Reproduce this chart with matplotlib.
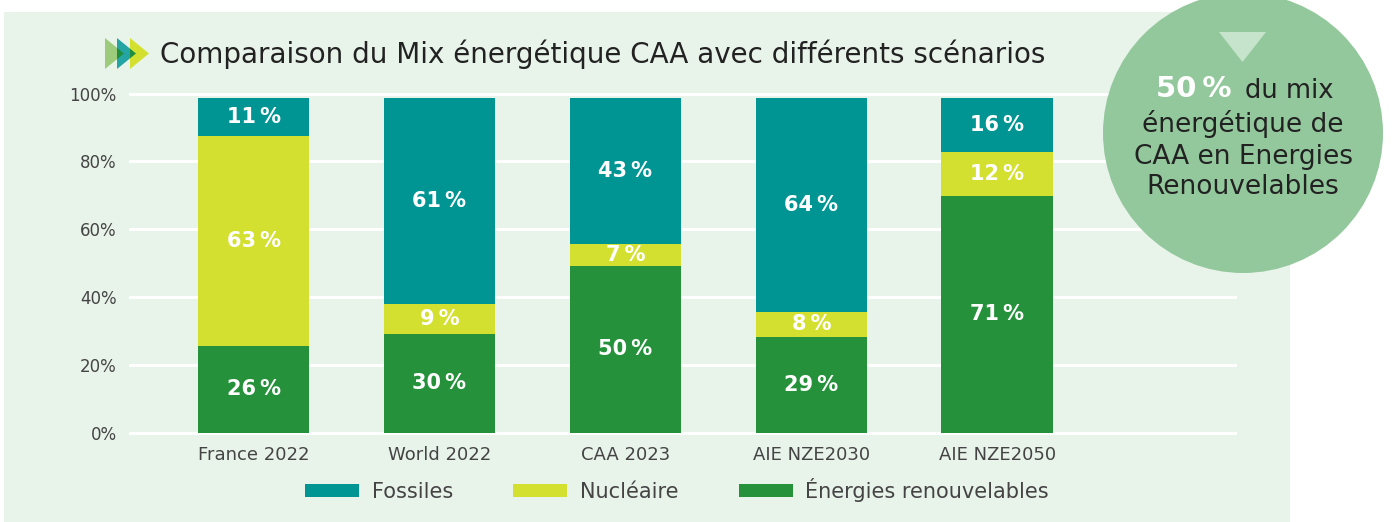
import matplotlib
matplotlib.use("Agg")
import matplotlib.pyplot as plt
from matplotlib.patches import Rectangle, Circle, Polygon
import numpy as np

# Données (hauteurs, étiquettes affichées)
categories = ["France 2022", "World 2022", "CAA 2023", "AIE NZE2030", "AIE NZE2050"]
renouvelables = [25.4, 29.2, 49.1, 28.3, 69.9]
nucleaire = [62.0, 8.8, 6.6, 7.3, 12.7]
fossiles = [11.2, 60.6, 42.9, 63.0, 16.0]
lab_renouvelables = ["26\u2009%", "30\u2009%", "50\u2009%", "29\u2009%", "71\u2009%"]
lab_nucleaire = ["63\u2009%", "9\u2009%", "7\u2009%", "8\u2009%", "12\u2009%"]
lab_fossiles = ["11\u2009%", "61\u2009%", "43\u2009%", "64\u2009%", "16\u2009%"]
yticks = [0, 20, 40, 60, 80, 100]

C_FOS = "#009593"
C_NUC = "#D3E02F"
C_REN = "#25923B"
C_BG = "#E8F3EA"
C_CIRCLE = "#93C89C"

plt.rcParams["font.family"] = ["DejaVu Sans"]

W, H = 1392, 522
fig = plt.figure(figsize=(W / 100, H / 100), dpi=100)
fig.patch.set_facecolor("white")

# fond (coordonnées pixels)
bg = fig.add_axes([0, 0, 1, 1], zorder=0)
bg.set_xlim(0, W)
bg.set_ylim(H, 0)
bg.axis("off")
bg.add_patch(Rectangle((4, 12), 1286, 520, color=C_BG, lw=0))

# icône titre
def tri(x0, color):
    return Polygon([(x0, 38), (x0, 69), (x0 + 19, 53.5)], closed=True, color=color, lw=0)

bg.add_patch(tri(105, "#9DCB7C"))
bg.add_patch(tri(117, "#24A5A4"))
bg.add_patch(tri(130, "#D3E02F"))
bg.add_patch(Polygon([(117, 47.8), (117, 59.2), (124, 53.5)], color="#1F8F3F", lw=0))
bg.add_patch(Polygon([(130, 48.6), (130, 58.4), (136, 53.5)], color="#1F8F3F", lw=0))
bg.text(160, 54, "Comparaison du Mix énergétique CAA avec différents scénarios",
        fontsize=20, color="#222222", va="center", ha="left")

# graphique
px = 3.39
y0, y100 = 432.5, 93.5
ax = fig.add_axes([129 / W, (H - y0 - px) / H, 1108 / W, (y0 - y100 + 2 * px) / H], zorder=1)
ax.set_facecolor("none")
ax.set_ylim(-1, 101)
ax.set_xlim(-0.67, 5.29)

x = np.arange(len(categories))
bw = 0.6
ren = np.array(renouvelables)
nuc = np.array(nucleaire)
fos = np.array(fossiles)
ax.bar(x, ren, bw, color=C_REN, label="Énergies renouvelables", zorder=2)
ax.bar(x, nuc, bw, bottom=ren, color=C_NUC, label="Nucléaire", zorder=2)
ax.bar(x, fos, bw, bottom=ren + nuc, color=C_FOS, label="Fossiles", zorder=2)

for i in range(len(categories)):
    for bottom, h, lab in [(0, ren[i], lab_renouvelables[i]),
                           (ren[i], nuc[i], lab_nucleaire[i]),
                           (ren[i] + nuc[i], fos[i], lab_fossiles[i])]:
        ax.text(x[i], bottom + h / 2, lab, ha="center", va="center", color="white",
                fontsize=15, fontweight="bold", zorder=3)

for t in yticks:
    ax.axhline(t, color="white", lw=2.2, zorder=1)

ax.set_yticks(yticks)
ax.set_yticklabels([f"{t}%" for t in yticks], fontsize=12, color="#444444")
ax.set_xticks(x)
ax.set_xticklabels(categories, fontsize=13, color="#444444")
ax.tick_params(axis="y", length=0, pad=9)
ax.tick_params(axis="x", length=0, pad=7)
for s in ax.spines.values():
    s.set_visible(False)

h_ren, h_nuc, h_fos = ax.containers[0], ax.containers[1], ax.containers[2]
fig.legend([h_fos, h_nuc, h_ren], ["Fossiles", "Nucléaire", "Énergies renouvelables"],
           loc="center", bbox_to_anchor=(677 / W, 1 - 490 / H), ncol=3, frameon=False,
           fontsize=15, handlelength=2.6, handleheight=0.62, handletextpad=0.6,
           columnspacing=2.9, labelcolor="#444444")

# bulle
top = fig.add_axes([0, 0, 1, 1], zorder=2)
top.set_xlim(0, W)
top.set_ylim(H, 0)
top.axis("off")
top.set_facecolor("none")
top.add_patch(Circle((1243, 133), 140, color=C_CIRCLE, lw=0))
top.add_patch(Polygon([(1219, 32), (1266, 32), (1242.5, 62)], color="#C6E3CB", lw=0))
top.text(1231, 89, "50\u2009%", ha="right", va="center", fontsize=21, fontweight="bold", color="white")
top.text(1245, 91, "du mix", ha="left", va="center", fontsize=18.5, color="#222222")
for yy, line in [(124, "énergétique de"), (157, "CAA en Energies"), (187, "Renouvelables")]:
    top.text(1243, yy, line, ha="center", va="center", fontsize=19, color="#222222")

fig.savefig("out.png", dpi=100)
